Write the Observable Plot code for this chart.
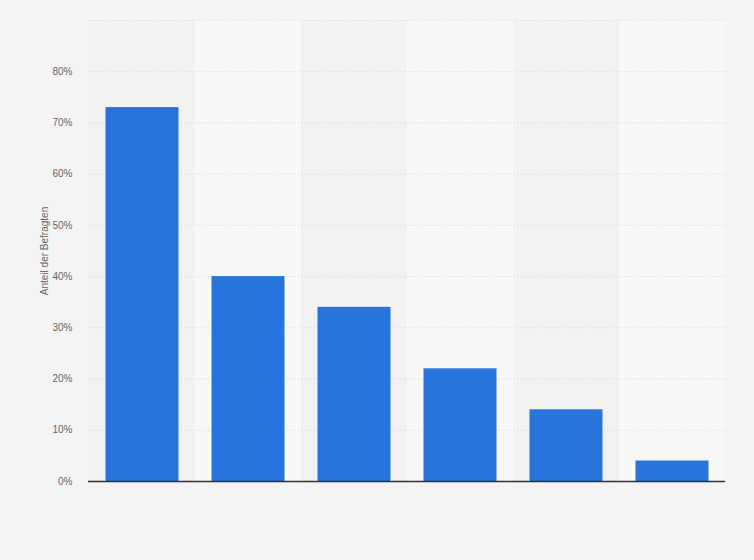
<!DOCTYPE html>
<html>
<head>
<meta charset="utf-8">
<script src="https://cdn.jsdelivr.net/npm/d3@7"></script>
<script src="https://cdn.jsdelivr.net/npm/@observablehq/plot@0.6"></script>
<style>
  html, body { margin: 0; padding: 0; background: #f4f4f4; }
  #chart svg { display: block; }
</style>
</head>
<body>
<div id="chart"></div>
<script>
const categories = ["Kategorie 1", "Kategorie 2", "Kategorie 3", "Kategorie 4", "Kategorie 5", "Kategorie 6"];
const values = [73, 40, 34, 22, 14, 4];
const yTicks = [0, 10, 20, 30, 40, 50, 60, 70, 80];
const gridLines = [10, 20, 30, 40, 50, 60, 70, 80, 90];
const yLabel = "Anteil der Befragten";

const data = categories.map((c, i) => ({category: c, value: values[i], index: i}));

const chart = Plot.plot({
  width: 754,
  height: 560,
  marginLeft: 88,
  marginRight: 29,
  marginTop: 20,
  marginBottom: 79,
  style: {background: "#f4f4f4", fontFamily: "Arial, 'Liberation Sans', sans-serif", fontSize: "10px", color: "#666"},
  x: {domain: categories, padding: 0, axis: null},
  y: {domain: [0, 90]},
  marks: [
    Plot.barY(data, {x: "category", y1: 0, y2: 90, fill: d => d.index % 2 ? "#f8f8f8" : "#f2f2f2"}),
    Plot.ruleY(gridLines, {stroke: "#d6d6d6", strokeDasharray: "1,2", strokeWidth: 1}),
    Plot.barY(data, {x: "category", y: "value", fill: "#2775dc", insetLeft: 16.5, insetRight: 16.5}),
    Plot.ruleY([0], {stroke: "#333", strokeWidth: 1.5}),
    Plot.axisY({
      ticks: yTicks,
      tickFormat: d => d + "%",
      tickSize: 0,
      tickPadding: 16,
      fill: "#666",
      label: yLabel,
      labelAnchor: "center",
      labelArrow: "none",
      labelOffset: 48
    })
  ]
});
document.getElementById("chart").appendChild(chart);
</script>
</body>
</html>
